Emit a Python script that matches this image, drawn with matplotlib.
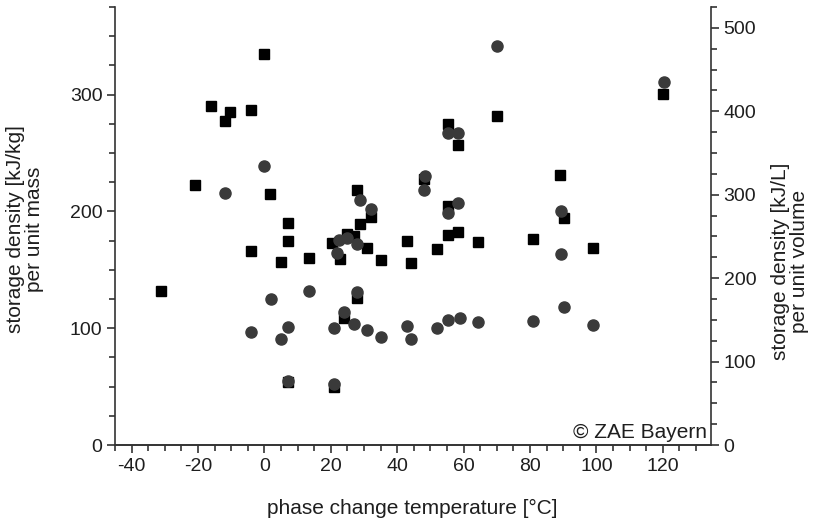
import numpy as np
import matplotlib
matplotlib.use("Agg")
import matplotlib.pyplot as plt
from matplotlib.ticker import MultipleLocator

plt.rcParams['font.family'] = ['Liberation Sans', 'DejaVu Sans']
plt.rcParams['axes.unicode_minus'] = False

# squares: storage density per unit mass [kJ/kg]
temp_mass = [-31, -21, -16, -12, -10.3, -4, -4, -0.2, 1.8, 5, 7, 7, 7, 13.4,
             20.5, 21, 22.8, 24, 24.8, 27, 27.9, 27.9, 28.9, 31, 32, 35, 43,
             44, 48, 52, 55.2, 55.2, 55.2, 58.2, 58.2, 64.2, 70, 81, 89,
             90.2, 99, 120]
dens_mass = [132, 223, 290, 277, 285, 286.5, 166, 335, 215, 157, 190, 175,
             54, 160, 173, 50, 159, 109, 181, 179, 218, 126, 189, 169, 195,
             158, 175, 155.5, 228, 168, 275, 205, 180, 257, 182, 173.5, 282,
             176, 231, 194.5, 168.5, 300.5]

# circles: storage density per unit volume [kJ/L]
temp_vol = [-12, -3.9, -0.2, 2, 5, 7, 7, 13.4, 21, 21, 21.8, 22.5, 24, 24.8,
            27, 27.8, 28, 28.9, 31, 32, 35.2, 43, 44, 48, 48.5, 52, 55.2,
            55.2, 55.2, 58.2, 58.2, 59, 64.2, 70, 81, 89.2, 89.2, 90.1, 99,
            120.2]
dens_vol = [302, 135, 334.5, 175, 127, 142, 77, 185, 140, 73, 230, 246, 160,
            248, 145, 241, 183, 294, 138, 282.6, 129, 143, 127, 306, 322.5,
            140, 374.5, 278.5, 150, 373.7, 290.5, 152.3, 147.5, 478.4, 148.3,
            280, 228.6, 165.5, 144, 435.6]

fig = plt.figure(figsize=(8.22, 5.23), dpi=100)
ax = fig.add_axes([0.1399, 0.1491, 0.865 - 0.1399, 0.9866 - 0.1491])
ax2 = ax.twinx()

ax.plot(temp_mass, dens_mass, 's', color='black', markersize=7, zorder=3)
ax2.plot(temp_vol, dens_vol, 'o', color='#3a3a3a', markersize=8, zorder=3)

ax.set_xlim(-45, 134.5)
ax.set_ylim(0, 375)
ax2.set_ylim(0, 525)

axis_col = '#333333'
txt_col = '#1e1e1e'
for a in (ax, ax2):
    a.spines['top'].set_visible(False)
    for s in a.spines.values():
        s.set_color(axis_col)
        s.set_linewidth(1.2)
    a.tick_params(which='both', colors=axis_col, labelcolor=txt_col,
                  labelsize=14, width=1.2)
    a.tick_params(which='major', length=6, pad=3)
    a.tick_params(which='minor', length=4)

ax.spines['right'].set_visible(False)
ax2.spines['left'].set_visible(False)

ax.xaxis.set_major_locator(MultipleLocator(20))
ax.xaxis.set_minor_locator(MultipleLocator(5))
ax.yaxis.set_major_locator(MultipleLocator(100))
ax.yaxis.set_minor_locator(MultipleLocator(25))
ax2.yaxis.set_major_locator(MultipleLocator(100))
ax2.yaxis.set_minor_locator(MultipleLocator(25))

ax.set_xlabel('phase change temperature [°C]', fontsize=15, color=txt_col)
ax.set_ylabel('storage density [kJ/kg]\nper unit mass', fontsize=15,
              color=txt_col, linespacing=1.05)
ax2.set_ylabel('storage density [kJ/L]\nper unit volume', fontsize=15,
               color=txt_col, linespacing=1.05)
ax.xaxis.set_label_coords(0.498, -0.144)
ax.xaxis.label.set_va('center')
ax.yaxis.set_label_coords(-0.151, 0.493)
ax.yaxis.label.set_va('center')
ax2.yaxis.set_label_coords(1.1326, 0.42)
ax2.yaxis.label.set_va('center')

ax.text(0.993, 0.006, '© ZAE Bayern', transform=ax.transAxes, ha='right',
        va='bottom', fontsize=15, color=txt_col)

fig.savefig('out.png', dpi=100)
